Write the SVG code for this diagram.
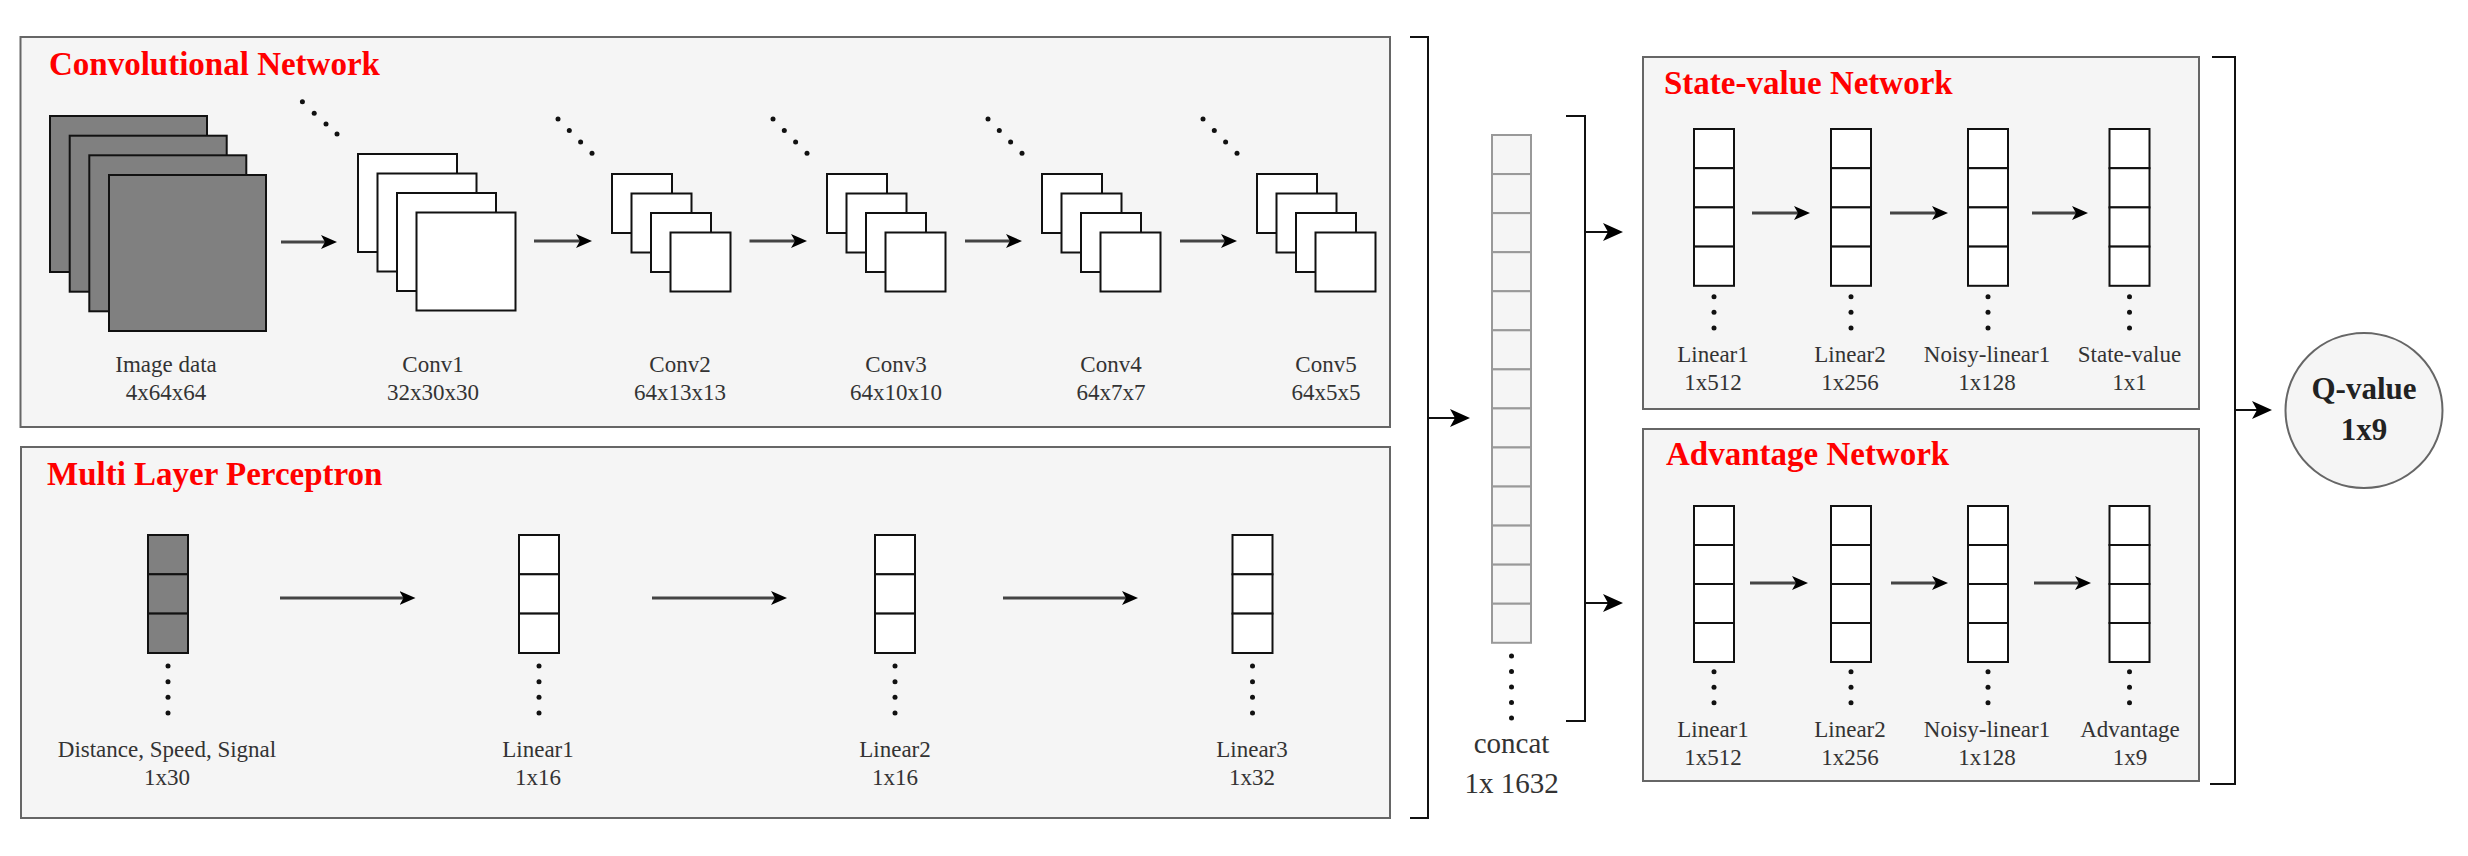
<svg xmlns="http://www.w3.org/2000/svg" width="2468" height="856" viewBox="0 0 2468 856">
<defs>
<style>
.panel{fill:#f5f5f5;stroke:#666;stroke-width:2}
.title{font-family:"Liberation Serif",serif;font-weight:bold;font-size:33px;fill:#ff0000}
.lbl{font-family:"Liberation Serif",serif;font-size:23px;fill:#333;text-anchor:middle}
.big{font-family:"Liberation Serif",serif;font-size:29px;fill:#333;text-anchor:middle}
.q{font-family:"Liberation Serif",serif;font-weight:bold;font-size:31px;fill:#222;text-anchor:middle}
.dark{fill:#808080;stroke:#111;stroke-width:2}
.wht{fill:#fff;stroke:#111;stroke-width:2}
.ccell{fill:#f5f5f5;stroke:#999;stroke-width:2}
.arr{stroke:#444;stroke-width:3;fill:none;marker-end:url(#ah)}
.br{stroke:#111;stroke-width:2;fill:none}
.barr{stroke:#111;stroke-width:2;fill:none;marker-end:url(#ahb)}
.dot{fill:#111}
</style>
<marker id="ah" viewBox="0 0 16 14" refX="8" refY="7" markerWidth="16" markerHeight="14" markerUnits="userSpaceOnUse" orient="auto">
<path d="M0,0 L16,7 L0,14 L4,7 Z" fill="#000"/>
</marker>
<marker id="ahb" viewBox="0 0 20 18" refX="10" refY="9" markerWidth="20" markerHeight="18" markerUnits="userSpaceOnUse" orient="auto">
<path d="M0,0 L20,9 L0,18 L5,9 Z" fill="#000"/>
</marker>
</defs>
<rect width="2468" height="856" fill="#fff"/>

<g id="conv-panel">
<rect class="panel" x="20.5" y="37" width="1369.5" height="390"/>
<text class="title" x="49" y="75">Convolutional Network</text>
</g>

<g id="image-data">
<rect class="dark" x="50" y="116" width="157" height="156"/>
<rect class="dark" x="69.7" y="135.7" width="157" height="156"/>
<rect class="dark" x="89.3" y="155.3" width="157" height="156"/>
<rect class="dark" x="109" y="175" width="157" height="156"/>
<text class="lbl" x="166" y="372">Image data</text>
<text class="lbl" x="166" y="400">4x64x64</text>
</g>

<g id="conv1">
<rect class="wht" x="358" y="154" width="99" height="98"/>
<rect class="wht" x="377.5" y="173.5" width="99" height="98"/>
<rect class="wht" x="397" y="193" width="99" height="98"/>
<rect class="wht" x="416.5" y="212.5" width="99" height="98"/>
<circle class="dot" cx="302.4" cy="101.7" r="2.5"/><circle class="dot" cx="314.2" cy="113.3" r="2.5"/><circle class="dot" cx="326" cy="124" r="2.5"/><circle class="dot" cx="337" cy="134" r="2.5"/>
<text class="lbl" x="433" y="372">Conv1</text>
<text class="lbl" x="433" y="400">32x30x30</text>
</g>

<g id="conv2">
<rect class="wht" x="612" y="174" width="60" height="59"/>
<rect class="wht" x="631.5" y="193.5" width="60" height="59"/>
<rect class="wht" x="651" y="213" width="60" height="59"/>
<rect class="wht" x="670.5" y="232.5" width="60" height="59"/>
<circle class="dot" cx="558" cy="119" r="2.5"/><circle class="dot" cx="569.3" cy="130.5" r="2.5"/><circle class="dot" cx="580.6" cy="142" r="2.5"/><circle class="dot" cx="592" cy="153.3" r="2.5"/>
<text class="lbl" x="680" y="372">Conv2</text>
<text class="lbl" x="680" y="400">64x13x13</text>
</g>

<g id="conv3">
<rect class="wht" x="827" y="174" width="60" height="59"/>
<rect class="wht" x="846.5" y="193.5" width="60" height="59"/>
<rect class="wht" x="866" y="213" width="60" height="59"/>
<rect class="wht" x="885.5" y="232.5" width="60" height="59"/>
<circle class="dot" cx="773" cy="119" r="2.5"/><circle class="dot" cx="784.3" cy="130.5" r="2.5"/><circle class="dot" cx="795.6" cy="142" r="2.5"/><circle class="dot" cx="807" cy="153.3" r="2.5"/>
<text class="lbl" x="896" y="372">Conv3</text>
<text class="lbl" x="896" y="400">64x10x10</text>
</g>

<g id="conv4">
<rect class="wht" x="1042" y="174" width="60" height="59"/>
<rect class="wht" x="1061.5" y="193.5" width="60" height="59"/>
<rect class="wht" x="1081" y="213" width="60" height="59"/>
<rect class="wht" x="1100.5" y="232.5" width="60" height="59"/>
<circle class="dot" cx="988" cy="119" r="2.5"/><circle class="dot" cx="999.3" cy="130.5" r="2.5"/><circle class="dot" cx="1010.6" cy="142" r="2.5"/><circle class="dot" cx="1022" cy="153.3" r="2.5"/>
<text class="lbl" x="1111" y="372">Conv4</text>
<text class="lbl" x="1111" y="400">64x7x7</text>
</g>

<g id="conv5">
<rect class="wht" x="1257" y="174" width="60" height="59"/>
<rect class="wht" x="1276.5" y="193.5" width="60" height="59"/>
<rect class="wht" x="1296" y="213" width="60" height="59"/>
<rect class="wht" x="1315.5" y="232.5" width="60" height="59"/>
<circle class="dot" cx="1203" cy="119" r="2.5"/><circle class="dot" cx="1214.3" cy="130.5" r="2.5"/><circle class="dot" cx="1225.6" cy="142" r="2.5"/><circle class="dot" cx="1237" cy="153.3" r="2.5"/>
<text class="lbl" x="1326" y="372">Conv5</text>
<text class="lbl" x="1326" y="400">64x5x5</text>
</g>

<g id="mlp-panel">
<rect class="panel" x="21" y="447" width="1369" height="371"/>
<text class="title" x="47" y="485">Multi Layer Perceptron</text>
</g>

<g id="mlp-input">
<rect class="dark" x="148" y="535" width="40" height="39.3"/>
<rect class="dark" x="148" y="574.3" width="40" height="39.3"/>
<rect class="dark" x="148" y="613.6" width="40" height="39.4"/>
<circle class="dot" cx="168" cy="666" r="2.5"/><circle class="dot" cx="168" cy="681.7" r="2.5"/><circle class="dot" cx="168" cy="697.3" r="2.5"/><circle class="dot" cx="168" cy="713" r="2.5"/>
<text class="lbl" x="167" y="757">Distance, Speed, Signal</text>
<text class="lbl" x="167" y="785">1x30</text>
</g>

<g id="mlp-linear1">
<rect class="wht" x="519" y="535" width="40" height="39.3"/>
<rect class="wht" x="519" y="574.3" width="40" height="39.3"/>
<rect class="wht" x="519" y="613.6" width="40" height="39.4"/>
<circle class="dot" cx="539" cy="666" r="2.5"/><circle class="dot" cx="539" cy="681.7" r="2.5"/><circle class="dot" cx="539" cy="697.3" r="2.5"/><circle class="dot" cx="539" cy="713" r="2.5"/>
<text class="lbl" x="538" y="757">Linear1</text>
<text class="lbl" x="538" y="785">1x16</text>
</g>

<g id="mlp-linear2">
<rect class="wht" x="875" y="535" width="40" height="39.3"/>
<rect class="wht" x="875" y="574.3" width="40" height="39.3"/>
<rect class="wht" x="875" y="613.6" width="40" height="39.4"/>
<circle class="dot" cx="895" cy="666" r="2.5"/><circle class="dot" cx="895" cy="681.7" r="2.5"/><circle class="dot" cx="895" cy="697.3" r="2.5"/><circle class="dot" cx="895" cy="713" r="2.5"/>
<text class="lbl" x="895" y="757">Linear2</text>
<text class="lbl" x="895" y="785">1x16</text>
</g>

<g id="mlp-linear3">
<rect class="wht" x="1232.5" y="535" width="40" height="39.3"/>
<rect class="wht" x="1232.5" y="574.3" width="40" height="39.3"/>
<rect class="wht" x="1232.5" y="613.6" width="40" height="39.4"/>
<circle class="dot" cx="1252.5" cy="666" r="2.5"/><circle class="dot" cx="1252.5" cy="681.7" r="2.5"/><circle class="dot" cx="1252.5" cy="697.3" r="2.5"/><circle class="dot" cx="1252.5" cy="713" r="2.5"/>
<text class="lbl" x="1252" y="757">Linear3</text>
<text class="lbl" x="1252" y="785">1x32</text>
</g>

<g id="concat">
<rect class="ccell" x="1492" y="135" width="39" height="39.06"/>
<rect class="ccell" x="1492" y="174.06" width="39" height="39.06"/>
<rect class="ccell" x="1492" y="213.12" width="39" height="39.06"/>
<rect class="ccell" x="1492" y="252.18" width="39" height="39.06"/>
<rect class="ccell" x="1492" y="291.24" width="39" height="39.06"/>
<rect class="ccell" x="1492" y="330.3" width="39" height="39.06"/>
<rect class="ccell" x="1492" y="369.36" width="39" height="39.06"/>
<rect class="ccell" x="1492" y="408.42" width="39" height="39.06"/>
<rect class="ccell" x="1492" y="447.48" width="39" height="39.06"/>
<rect class="ccell" x="1492" y="486.54" width="39" height="39.06"/>
<rect class="ccell" x="1492" y="525.6" width="39" height="39.06"/>
<rect class="ccell" x="1492" y="564.66" width="39" height="39.06"/>
<rect class="ccell" x="1492" y="603.72" width="39" height="39.06"/>
<circle class="dot" cx="1511.5" cy="656" r="2.5"/><circle class="dot" cx="1511.5" cy="671.5" r="2.5"/><circle class="dot" cx="1511.5" cy="687" r="2.5"/><circle class="dot" cx="1511.5" cy="702.5" r="2.5"/><circle class="dot" cx="1511.5" cy="718" r="2.5"/>
<text class="big" x="1511.5" y="753">concat</text>
<text class="big" x="1511.5" y="793">1x 1632</text>
</g>

<g id="state-panel">
<rect class="panel" x="1643" y="57" width="556" height="352"/>
<text class="title" x="1664" y="94">State-value Network</text>
</g>

<g id="sv-linear1">
<rect class="wht" x="1694" y="129" width="40" height="39.2"/><rect class="wht" x="1694" y="168.2" width="40" height="39.2"/><rect class="wht" x="1694" y="207.4" width="40" height="39.2"/><rect class="wht" x="1694" y="246.6" width="40" height="39.2"/>
<circle class="dot" cx="1714" cy="296.7" r="2.5"/><circle class="dot" cx="1714" cy="312.3" r="2.5"/><circle class="dot" cx="1714" cy="328" r="2.5"/>
<text class="lbl" x="1713" y="362">Linear1</text><text class="lbl" x="1713" y="390">1x512</text>
</g>
<g id="sv-linear2">
<rect class="wht" x="1831" y="129" width="40" height="39.2"/><rect class="wht" x="1831" y="168.2" width="40" height="39.2"/><rect class="wht" x="1831" y="207.4" width="40" height="39.2"/><rect class="wht" x="1831" y="246.6" width="40" height="39.2"/>
<circle class="dot" cx="1851" cy="296.7" r="2.5"/><circle class="dot" cx="1851" cy="312.3" r="2.5"/><circle class="dot" cx="1851" cy="328" r="2.5"/>
<text class="lbl" x="1850" y="362">Linear2</text><text class="lbl" x="1850" y="390">1x256</text>
</g>
<g id="sv-noisy">
<rect class="wht" x="1968" y="129" width="40" height="39.2"/><rect class="wht" x="1968" y="168.2" width="40" height="39.2"/><rect class="wht" x="1968" y="207.4" width="40" height="39.2"/><rect class="wht" x="1968" y="246.6" width="40" height="39.2"/>
<circle class="dot" cx="1988" cy="296.7" r="2.5"/><circle class="dot" cx="1988" cy="312.3" r="2.5"/><circle class="dot" cx="1988" cy="328" r="2.5"/>
<text class="lbl" x="1987" y="362">Noisy-linear1</text><text class="lbl" x="1987" y="390">1x128</text>
</g>
<g id="sv-out">
<rect class="wht" x="2109.5" y="129" width="40" height="39.2"/><rect class="wht" x="2109.5" y="168.2" width="40" height="39.2"/><rect class="wht" x="2109.5" y="207.4" width="40" height="39.2"/><rect class="wht" x="2109.5" y="246.6" width="40" height="39.2"/>
<circle class="dot" cx="2129.5" cy="296.7" r="2.5"/><circle class="dot" cx="2129.5" cy="312.3" r="2.5"/><circle class="dot" cx="2129.5" cy="328" r="2.5"/>
<text class="lbl" x="2129.5" y="362">State-value</text><text class="lbl" x="2129.5" y="390">1x1</text>
</g>

<g id="adv-panel">
<rect class="panel" x="1643" y="429" width="556" height="352"/>
<text class="title" x="1666" y="465">Advantage Network</text>
</g>

<g id="adv-linear1">
<rect class="wht" x="1694" y="506" width="40" height="39"/><rect class="wht" x="1694" y="545" width="40" height="39"/><rect class="wht" x="1694" y="584" width="40" height="39"/><rect class="wht" x="1694" y="623" width="40" height="39"/>
<circle class="dot" cx="1714" cy="671.7" r="2.5"/><circle class="dot" cx="1714" cy="687.2" r="2.5"/><circle class="dot" cx="1714" cy="702.7" r="2.5"/>
<text class="lbl" x="1713" y="737">Linear1</text><text class="lbl" x="1713" y="765">1x512</text>
</g>
<g id="adv-linear2">
<rect class="wht" x="1831" y="506" width="40" height="39"/><rect class="wht" x="1831" y="545" width="40" height="39"/><rect class="wht" x="1831" y="584" width="40" height="39"/><rect class="wht" x="1831" y="623" width="40" height="39"/>
<circle class="dot" cx="1851" cy="671.7" r="2.5"/><circle class="dot" cx="1851" cy="687.2" r="2.5"/><circle class="dot" cx="1851" cy="702.7" r="2.5"/>
<text class="lbl" x="1850" y="737">Linear2</text><text class="lbl" x="1850" y="765">1x256</text>
</g>
<g id="adv-noisy">
<rect class="wht" x="1968" y="506" width="40" height="39"/><rect class="wht" x="1968" y="545" width="40" height="39"/><rect class="wht" x="1968" y="584" width="40" height="39"/><rect class="wht" x="1968" y="623" width="40" height="39"/>
<circle class="dot" cx="1988" cy="671.7" r="2.5"/><circle class="dot" cx="1988" cy="687.2" r="2.5"/><circle class="dot" cx="1988" cy="702.7" r="2.5"/>
<text class="lbl" x="1987" y="737">Noisy-linear1</text><text class="lbl" x="1987" y="765">1x128</text>
</g>
<g id="adv-out">
<rect class="wht" x="2109.5" y="506" width="40" height="39"/><rect class="wht" x="2109.5" y="545" width="40" height="39"/><rect class="wht" x="2109.5" y="584" width="40" height="39"/><rect class="wht" x="2109.5" y="623" width="40" height="39"/>
<circle class="dot" cx="2129.5" cy="671.7" r="2.5"/><circle class="dot" cx="2129.5" cy="687.2" r="2.5"/><circle class="dot" cx="2129.5" cy="702.7" r="2.5"/>
<text class="lbl" x="2130" y="737">Advantage</text><text class="lbl" x="2130" y="765">1x9</text>
</g>

<g id="q-value">
<ellipse cx="2364" cy="410.5" rx="78.5" ry="77.5" fill="#f5f5f5" stroke="#666" stroke-width="2"/>
<text class="q" x="2364" y="399">Q-value</text>
<text class="q" x="2364" y="440">1x9</text>
</g>

<g id="connectors">
<line class="arr" x1="281" y1="242" x2="329" y2="242"/>
<line class="arr" x1="534" y1="241" x2="584" y2="241"/>
<line class="arr" x1="749.5" y1="241" x2="799" y2="241"/>
<line class="arr" x1="965" y1="241" x2="1014" y2="241"/>
<line class="arr" x1="1180" y1="241" x2="1229" y2="241"/>
<line class="arr" x1="280" y1="598" x2="407.5" y2="598"/>
<line class="arr" x1="652" y1="598" x2="779" y2="598"/>
<line class="arr" x1="1003" y1="598" x2="1130" y2="598"/>
<line class="arr" x1="1752" y1="213" x2="1802" y2="213"/>
<line class="arr" x1="1890" y1="213" x2="1940" y2="213"/>
<line class="arr" x1="2032" y1="213" x2="2080" y2="213"/>
<line class="arr" x1="1750" y1="583" x2="1800" y2="583"/>
<line class="arr" x1="1891" y1="583" x2="1940" y2="583"/>
<line class="arr" x1="2034" y1="583" x2="2083" y2="583"/>
<path class="br" d="M1410,37 H1428 V818 H1410"/>
<line class="barr" x1="1428" y1="418" x2="1460" y2="418"/>
<path class="br" d="M1566,116 H1585 V721 H1566"/>
<line class="barr" x1="1585" y1="232" x2="1613" y2="232"/>
<line class="barr" x1="1585" y1="603" x2="1613" y2="603"/>
<path class="br" d="M2212,57 H2235 V784 H2210"/>
<line class="barr" x1="2235" y1="410" x2="2262" y2="410"/>
</g>
</svg>
